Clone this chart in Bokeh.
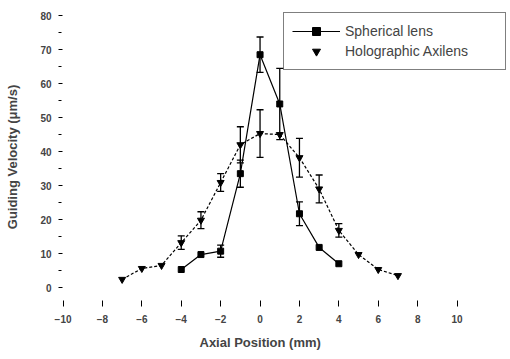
from bokeh.plotting import figure
from bokeh.models import (ColumnDataSource, Whisker, TeeHead, FixedTicker, Legend,
                          LegendItem, Range1d, Title)
from bokeh.embed import file_html
from bokeh.resources import INLINE

# Spherical lens (narrow focus)
sph_x = [-4, -3, -2, -1, 0, 1, 2, 3, 4]
sph_y = [5.3, 9.7, 10.7, 33.5, 68.5, 54, 21.7, 11.8, 7.0]
sph_err = [0, 0, 1.8, 4.0, 5.2, 10.5, 3.5, 0, 0]

# Holographic Axilens (extended focus)
hol_x = [-7, -6, -5, -4, -3, -2, -1, 0, 1, 2, 3, 4, 5, 6, 7]
hol_y = [2.4, 5.6, 6.5, 13.2, 19.8, 30.9, 42.0, 45.3, 45.0, 38.2, 29.0, 16.8, 9.7, 5.3, 3.5]
hol_err = [0, 0, 0, 2.0, 2.5, 2.6, 5.3, 7.0, 0, 5.7, 4.1, 2.0, 0, 0, 0]

x_ticks = [-10, -8, -6, -4, -2, 0, 2, 4, 6, 8, 10]
y_ticks = [0, 10, 20, 30, 40, 50, 60, 70, 80]
y_minor = [5, 15, 25, 35, 45, 55, 65, 75]

FONT = "Liberation Sans"

p = figure(width=510, height=357, output_backend="svg", toolbar_location=None,
           x_range=Range1d(-10.23, 12.56), y_range=Range1d(-4.7, 81.5),
           min_border_left=58, min_border_right=3, min_border_top=10, min_border_bottom=30)
p.frame_width = 449
p.frame_height = 293
p.outline_line_color = None
p.xgrid.visible = False
p.ygrid.visible = False
p.background_fill_color = "white"
p.border_fill_color = "white"

def err_source(xs, ys, es):
    xx, lo, hi = [], [], []
    for x, y, e in zip(xs, ys, es):
        if e > 0:
            xx.append(x); lo.append(y - e); hi.append(y + e)
    return ColumnDataSource(dict(x=xx, lower=lo, upper=hi))

for xs, ys, es in [(sph_x, sph_y, sph_err), (hol_x, hol_y, hol_err)]:
    w = Whisker(source=err_source(xs, ys, es), base="x", lower="lower", upper="upper",
                line_color="black", line_width=1.3,
                upper_head=TeeHead(size=7, line_color="black", line_width=1.3),
                lower_head=TeeHead(size=7, line_color="black", line_width=1.3))
    p.add_layout(w)

sph_src = ColumnDataSource(dict(x=sph_x, y=sph_y))
hol_src = ColumnDataSource(dict(x=hol_x, y=hol_y))

l1 = p.line("x", "y", source=sph_src, line_color="black", line_width=1.2)
s1 = p.scatter("x", "y", source=sph_src, marker="square", size=6, color="black")
l2 = p.line("x", "y", source=hol_src, line_color="black", line_width=1.2, line_dash="3 2")
s2 = p.scatter("x", "y", source=hol_src, marker="inverted_triangle", size=7, color="black")

legend = Legend(items=[LegendItem(label="Spherical lens", renderers=[l1, s1]),
                       LegendItem(label="Holographic Axilens", renderers=[s2])],
                location=(225, 233), border_line_color="black", border_line_width=1.5,
                background_fill_alpha=0, padding=8, margin=0, spacing=0,
                glyph_width=48, glyph_height=20, label_height=20, label_width=152,
                label_standoff=5,
                label_text_font=FONT, label_text_font_size="14px")
p.add_layout(legend)

xa = p.xaxis[0]
xa.ticker = FixedTicker(ticks=x_ticks)
xa.axis_line_color = None
xa.major_tick_in = 3
xa.major_tick_out = 3
xa.minor_tick_line_color = None
xa.major_label_standoff = 8
xa.major_label_text_font = FONT
xa.major_label_text_font_style = "bold"
xa.major_label_text_font_size = "10px"

xtitle = Title(text="Axial Position (mm)", align="left", offset=141, standoff=15,
               text_font=FONT, text_font_style="bold", text_font_size="13px")
p.add_layout(xtitle, "below")

ya = p.yaxis[0]
ya.ticker = FixedTicker(ticks=y_ticks, minor_ticks=y_minor)
ya.axis_line_color = None
ya.major_tick_in = 4
ya.major_tick_out = 0
ya.minor_tick_in = 3
ya.minor_tick_out = 0
ya.major_label_standoff = 7
ya.major_label_text_font = FONT
ya.major_label_text_font_style = "bold"
ya.major_label_text_font_size = "10px"
ya.axis_label = "Guiding Velocity (\u03bcm/s)"
ya.axis_label_text_font = FONT
ya.axis_label_text_font_style = "bold"
ya.axis_label_text_font_size = "13px"
ya.axis_label_standoff = 17

open("out.html", "w").write(file_html(p, INLINE))
